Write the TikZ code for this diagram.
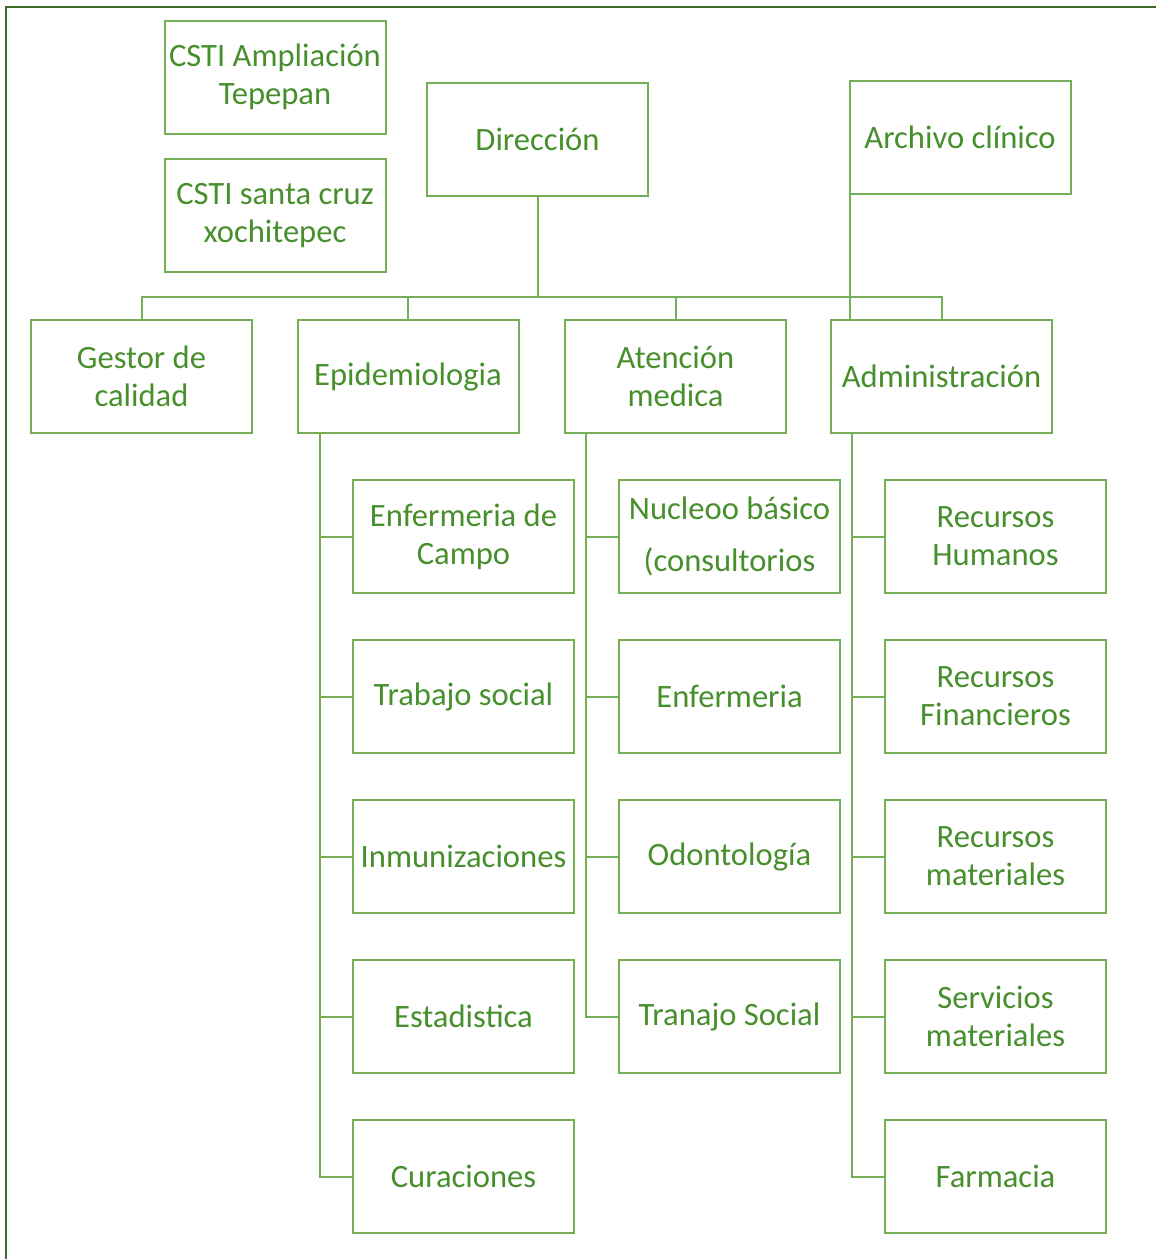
\documentclass[tikz,border=0pt]{standalone}
\usepackage{fontspec}
\setmainfont{Carlito}
\definecolor{framegreen}{HTML}{3D6B27}
\definecolor{boxgreen}{HTML}{74AE57}
\definecolor{txtgreen}{HTML}{468F2C}
\begin{document}
\begin{tikzpicture}[x=1pt,y=-1pt,
  unit/.style={draw=boxgreen, line width=2pt, rectangle, minimum width=221pt, minimum height=113pt,
    inner sep=0pt, align=center, text=txtgreen, font=\fontsize{32.6}{38}\selectfont},
  link/.style={draw=boxgreen, line width=2pt}]
\useasboundingbox (0,0) rectangle (1156,1259);
\draw[framegreen, line width=2.5pt] (6,1259) -- (6,7) -- (1156,7);

% top row
\node[unit] (csti1) at (275,77) {CSTI Ampliación\\Tepepan};
\node[unit] (csti2) at (275,215.5) {CSTI santa cruz\\xochitepec};
\node[unit] (dir) at (537.5,139.5) {Dirección};
\node[unit] (arch) at (960,137) {Archivo clínico};

% second row
\node[unit] (gestor) at (141.5,376.5) {Gestor de\\calidad};
\node[unit] (epi) at (408,376.5) {Epidemiologia};
\node[unit] (aten) at (675.5,376.5) {Atención\\medica};
\node[unit] (admin) at (941.5,376.5) {Administración};

% Epidemiologia children
\node[unit] (enfc) at (463.5,536.5) {Enfermeria de\\Campo};
\node[unit] (trab) at (463.5,696.5) {Trabajo social};
\node[unit] (inmu) at (463.5,856.5) {Inmunizaciones};
\node[unit] (esta) at (463.5,1016.5) {Estadistica};
\node[unit] (cura) at (463.5,1176.5) {Curaciones};

% Atencion children
\node[unit] (nucl) at (729.5,536.5) {Nucleoo básico\\[14pt](consultorios};
\node[unit] (enfe) at (729.5,696.5) {Enfermeria};
\node[unit] (odon) at (729.5,856.5) {Odontología};
\node[unit] (tran) at (729.5,1016.5) {Tranajo Social};

% Administracion children
\node[unit] (rhum) at (995.5,536.5) {Recursos\\Humanos};
\node[unit] (rfin) at (995.5,696.5) {Recursos\\Financieros};
\node[unit] (rmat) at (995.5,856.5) {Recursos\\materiales};
\node[unit] (smat) at (995.5,1016.5) {Servicios\\materiales};
\node[unit] (farm) at (995.5,1176.5) {Farmacia};

% bus
\coordinate (bus) at (0,297);
\draw[link] (gestor.north) |- (bus -| admin.north) -- (admin.north);
\draw[link] (dir.south) -- (dir.south |- bus);
\draw[link] (epi.north) -- (epi.north |- bus);
\draw[link] (aten.north) -- (aten.north |- bus);
\coordinate (archL) at ([xshift=1pt]arch.south west);
\draw[link] (archL) -- (archL |- admin.north);

% child spines
\coordinate (epiS) at ([xshift=23pt]epi.south west);
\coordinate (atenS) at ([xshift=22pt]aten.south west);
\coordinate (admS) at ([xshift=22pt]admin.south west);
\draw[link] (epiS) |- (cura.west);
\foreach \n in {enfc,trab,inmu,esta} \draw[link] (\n.west) -- (\n.west -| epiS);
\draw[link] (atenS) |- (tran.west);
\foreach \n in {nucl,enfe,odon} \draw[link] (\n.west) -- (\n.west -| atenS);
\draw[link] (admS) |- (farm.west);
\foreach \n in {rhum,rfin,rmat,smat} \draw[link] (\n.west) -- (\n.west -| admS);
\end{tikzpicture}
\end{document}
